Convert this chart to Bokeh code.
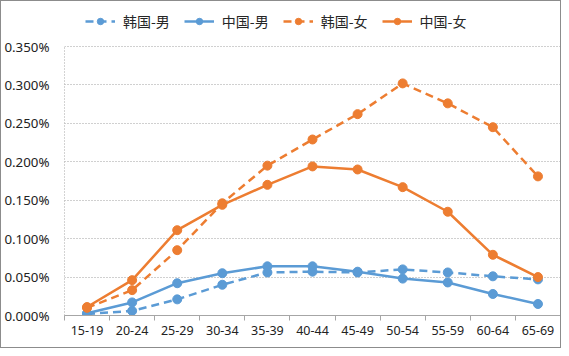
from bokeh.plotting import figure
from bokeh.models import (Legend, LegendItem, FixedTicker, PrintfTickFormatter, Range1d)
from bokeh.embed import file_html
from bokeh.resources import INLINE

categories = ["15-19", "20-24", "25-29", "30-34", "35-39", "40-44",
              "45-49", "50-54", "55-59", "60-64", "65-69"]
korea_male = [0.002, 0.006, 0.021, 0.040, 0.056, 0.057, 0.056, 0.060, 0.056, 0.051, 0.047]
china_male = [0.003, 0.017, 0.042, 0.055, 0.064, 0.064, 0.057, 0.048, 0.043, 0.028, 0.015]
korea_female = [0.010, 0.033, 0.085, 0.146, 0.195, 0.229, 0.262, 0.302, 0.276, 0.245, 0.181]
china_female = [0.011, 0.046, 0.111, 0.144, 0.170, 0.194, 0.190, 0.167, 0.135, 0.079, 0.050]
y_ticks = [0.0, 0.05, 0.10, 0.15, 0.20, 0.25, 0.30, 0.35]

series = [
    ("韩国-男", korea_male, "#5B9BD5", "8 5"),
    ("中国-男", china_male, "#5B9BD5", "solid"),
    ("韩国-女", korea_female, "#ED7D31", "8 5"),
    ("中国-女", china_female, "#ED7D31", "solid"),
]

xs = list(range(len(categories)))

# frame: 313px tall, the 0.350% line sits 269px above the bottom; the rest holds the legend
y_top = y_ticks[-1] * 313 / 269

p = figure(width=561, height=348, output_backend="svg", toolbar_location=None,
           x_range=Range1d(-0.5, len(categories) - 0.5),
           y_range=Range1d(y_ticks[0], y_top),
           min_border_left=60, min_border_right=2, min_border_bottom=34, min_border_top=1)
p.styles = {"border": "1px solid #8c8c8c"}
p.outline_line_color = None
p.background_fill_color = "white"
p.border_fill_color = "white"

items = []
for name, vals, color, dash in series:
    r1 = p.line(xs, vals, line_color=color, line_width=2.5, line_dash=dash)
    r2 = p.scatter(xs, vals, size=9, fill_color=color, line_color=color)
    items.append(LegendItem(label=name, renderers=[r1, r2]))

legend = Legend(items=items, orientation="horizontal", location=(21, 284),
                border_line_color=None, background_fill_alpha=0,
                label_text_font="Noto Sans CJK SC", label_text_font_size="14px",
                label_text_color="#262626", glyph_width=30, glyph_height=16,
                label_standoff=8, spacing=14, padding=4, margin=0)
p.add_layout(legend)

# x axis: labels at centres, ticks at boundaries
p.xaxis.ticker = FixedTicker(ticks=xs, minor_ticks=[i - 0.5 for i in range(len(categories) + 1)])
p.xaxis.major_label_overrides = {i: c for i, c in enumerate(categories)}
p.xaxis.major_tick_line_color = None
p.xaxis.minor_tick_line_color = "#A6A6A6"
p.xaxis.minor_tick_in = 0
p.xaxis.minor_tick_out = 5
p.xaxis.axis_line_color = "#A6A6A6"
p.xaxis.axis_line_width = 1
p.xaxis.major_label_text_font = "Noto Sans"
p.xaxis.major_label_text_font_size = "12.5px"
p.xaxis.major_label_text_color = "#222222"
p.xaxis.major_label_standoff = 4

p.yaxis.ticker = FixedTicker(ticks=y_ticks)
p.yaxis.bounds = (y_ticks[0], y_ticks[-1])
p.yaxis.formatter = PrintfTickFormatter(format="%.3f%%")
p.yaxis.major_tick_line_color = None
p.yaxis.minor_tick_line_color = None
p.yaxis.axis_line_color = "#A6A6A6"
p.yaxis.axis_line_dash = "1 2"
p.yaxis.major_label_text_font = "Noto Sans"
p.yaxis.major_label_text_font_size = "13.3px"
p.yaxis.major_label_text_color = "#222222"
p.yaxis.major_label_standoff = 9

p.xgrid.grid_line_color = None
p.ygrid.grid_line_color = "#A0A0A0"
p.ygrid.grid_line_dash = "1 2"
p.ygrid.grid_line_width = 1

open("out.html", "w").write(file_html(p, INLINE))
